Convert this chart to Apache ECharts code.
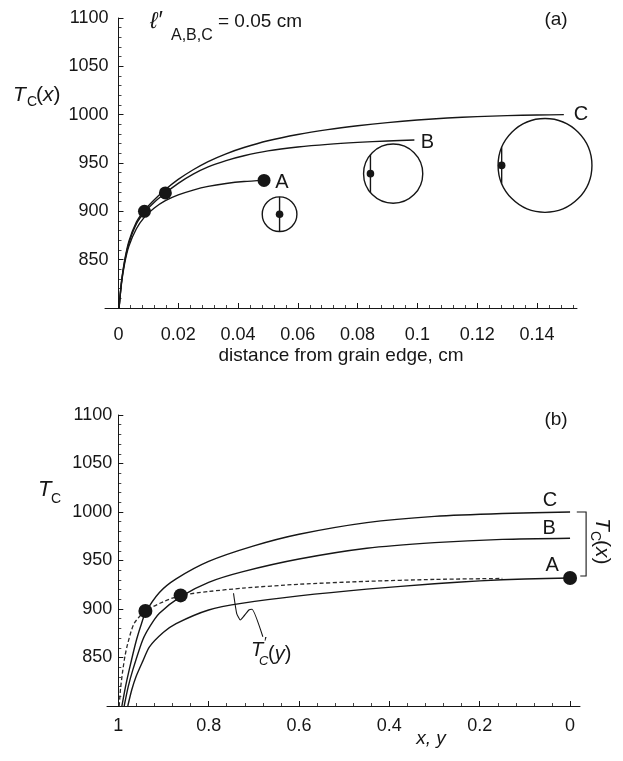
<!DOCTYPE html>
<html><head><meta charset="utf-8">
<script src="https://cdn.jsdelivr.net/npm/echarts@6/dist/echarts.min.js"></script>
<style>html,body{margin:0;padding:0;background:#fff}#c{width:623px;height:761px}</style>
</head><body><div id="c"></div>
<script>
// ---------- Panel (a): Tc(x) vs distance from grain edge (cm) ----------
const xTicksA = [0, 0.02, 0.04, 0.06, 0.08, 0.1, 0.12, 0.14];
const yTicks = [850, 900, 950, 1000, 1050, 1100];

const xA_a = [0.0002,0.001,0.002,0.0035,0.006,0.0087,0.012,0.0157,0.02,0.025,0.03,0.036,0.042,0.0487];
const tA_a = [800,825,845,864,882,894,903.5,911,917,922,925.8,928.8,930.8,932];
const xB_a = [0.0002,0.001,0.002,0.0035,0.006,0.0087,0.012,0.0157,0.02,0.025,0.03,0.036,0.042,0.05,0.06,0.07,0.08,0.09,0.099];
const tB_a = [800,826,847,867,887,899,909.5,919,929,938.5,946,952.5,957.5,962.5,966.5,969.3,971.3,972.8,973.8];
const xC_a = [0.0002,0.001,0.002,0.0035,0.006,0.0087,0.012,0.0157,0.02,0.025,0.03,0.036,0.042,0.05,0.06,0.07,0.08,0.09,0.1,0.11,0.12,0.13,0.14,0.149];
const tC_a = [800,827,848,869,889,901,912,922.5,933,943,951.5,959.5,966,973,979.5,984.5,988.5,991.8,994.5,996.5,998,999,999.6,1000];
const dotX_a = [0.0087, 0.0157, 0.0487];
const dotT_a = [900, 919, 932];
// grain cross-sections: centre (cm, T), radius (cm), nucleus position (cm)
const grainX = [0.0539, 0.0919, 0.1427];
const grainT = [897, 939, 947.5];
const grainR = [0.0058, 0.0099, 0.0157];
const grainDotX = [0.0539, 0.0843, 0.1282];

// ---------- Panel (b): Tc vs x, y ----------
const xTicksB = [0, 0.2, 0.4, 0.6, 0.8, 1];
const xA_b = [0.979,0.97,0.961,0.946,0.931,0.9,0.872,0.8,0.724,0.6,0.45,0.3,0.2,0.1,0];
const tA_b = [800,817,830,846,861,876,885,899,906,913.5,920.5,926,929,931,932];
const xB_b = [0.987,0.978,0.968,0.946,0.93,0.909,0.862,0.8,0.724,0.6,0.45,0.3,0.15,0];
const tB_b = [800,820,837,868,882,895.5,912.7,927.5,938.5,951.5,962.6,968.4,971.8,973];
const xC_b = [0.992,0.984,0.976,0.961,0.95,0.94,0.909,0.872,0.8,0.7,0.6,0.45,0.3,0.15,0];
const tC_b = [800,820,837,866,883,896,917,931,949,965,977,989,995.5,998.5,1000];
const xTp_b = [0.998,0.995,0.99,0.985,0.979,0.965,0.94,0.9,0.862,0.8,0.724,0.6,0.45,0.3,0.15];
const tTp_b = [800,818,837,852,864.6,885,898,907.5,914,918,921.5,925.5,928.5,930.5,931.5];
const dotX_b = [0.94, 0.862, 0];
const dotT_b = [898, 914, 932];
// annotation: leader from T'c(y) label to dashed curve, and bracket for Tc(x)
const leaderX = [0.745, 0.738, 0.730, 0.723, 0.711, 0.704, 0.680];
const leaderT = [916.2, 895.6, 888.7, 892.1, 899.0, 899.7, 871.4];
const bracketX = [-0.0149, -0.0355, -0.0355, -0.0226];
const bracketT = [1000, 1000, 934, 934];

const INK = '#161616';
const FONT = '"Liberation Sans", Arial, Helvetica, sans-serif';
const zip = (xs, ys) => xs.map((x, i) => [x, ys[i]]);
const fmt = v => String(parseFloat((+v).toFixed(3)));

function minorTicks(major, n, hi) {
  const step = (major[1] - major[0]) / n, out = [];
  for (let k = 0; major[0] + k * step <= hi + 1e-9; k++) out.push(+(major[0] + k * step).toFixed(6));
  return out;
}

const chart = echarts.init(document.getElementById('c'), null, {renderer: 'canvas'});

function xMajor(grid, min, max, ticks, margin, inverse, name) {
  return {type: 'value', gridIndex: grid, position: 'bottom', min, max, inverse: !!inverse,
    name: name || '', nameLocation: 'middle', nameGap: 38,
    nameTextStyle: {fontSize: 19, fontFamily: FONT, color: INK},
    axisLine: {show: true, onZero: false, lineStyle: {color: INK, width: 1}},
    axisTick: {show: true, inside: true, length: 5, customValues: ticks, lineStyle: {color: INK, width: 1}},
    axisLabel: {show: true, customValues: ticks, margin, fontSize: 18, fontFamily: FONT, color: INK, formatter: fmt},
    splitLine: {show: false}, minorTick: {show: false}};
}
function xMinor(grid, min, max, ticks, inverse) {
  return {type: 'value', gridIndex: grid, position: 'bottom', min, max, inverse: !!inverse,
    axisLine: {show: false, onZero: false},
    axisTick: {show: true, inside: true, length: 3, customValues: ticks, lineStyle: {color: INK, width: 0.8}},
    axisLabel: {show: false}, splitLine: {show: false}};
}
function yAx(grid, offset, margin) {
  return {type: 'value', gridIndex: grid, position: 'left', min: 800, max: 1100, interval: 50, offset,
    axisLine: {show: true, onZero: false, lineStyle: {color: INK, width: 1}},
    axisTick: {show: true, inside: true, length: 5, lineStyle: {color: INK, width: 1}},
    minorTick: {show: true, splitNumber: 5, length: 3, lineStyle: {color: INK, width: 0.8}},
    axisLabel: {customValues: yTicks, margin, fontSize: 18, fontFamily: FONT, color: INK, formatter: v => String(v)},
    splitLine: {show: false}, minorSplitLine: {show: false}};
}

function lineS(xs, ts, xi, yi, extra) {
  return Object.assign({type: 'line', xAxisIndex: xi, yAxisIndex: yi, data: zip(xs, ts),
    showSymbol: false, symbol: 'none', smooth: 0.25,
    lineStyle: {color: INK, width: 1.4}, silent: true, z: 2}, extra || {});
}
function dots(xs, ts, xi, yi, size) {
  return {type: 'scatter', xAxisIndex: xi, yAxisIndex: yi, data: zip(xs, ts), symbolSize: size,
    itemStyle: {color: INK, opacity: 1}, z: 5, silent: true};
}

function renderGrain(params, api) {
  const c = api.coord([api.value(0), api.value(1)]);
  const d = api.coord([api.value(3), api.value(1)]);
  const rp = api.size([api.value(2), 0])[0];
  const off = d[0] - c[0];
  const half = Math.sqrt(Math.max(rp * rp - off * off, 0));
  return {type: 'group', children: [
    {type: 'circle', shape: {cx: c[0], cy: c[1], r: rp}, style: {fill: 'none', stroke: INK, lineWidth: 1.4}},
    {type: 'line', shape: {x1: d[0], y1: c[1] - half, x2: d[0], y2: c[1] + half}, style: {stroke: INK, lineWidth: 1.4}},
    {type: 'circle', shape: {cx: d[0], cy: c[1], r: 3.8}, style: {fill: INK}}
  ]};
}

const option = {
  animation: false,
  backgroundColor: '#fff',
  grid: [
    {left: 105, top: 18, width: 472, height: 290},
    {left: 107, top: 415, width: 473, height: 291}
  ],
  xAxis: [
    xMajor(0, -0.0045, 0.1534, xTicksA, 18, false, 'distance from grain edge, cm'),
    xMinor(0, -0.0045, 0.1534, minorTicks(xTicksA, 5, 0.1534), false),
    xMajor(1, -0.022, 1.025, xTicksB, 11, true, ''),
    xMinor(1, -0.022, 1.025, minorTicks(xTicksB, 5, 1.025), true)
  ],
  yAxis: [yAx(0, -13.5, 10), yAx(1, -11.3, 6)],
  series: [
    lineS(xA_a, tA_a, 0, 0),
    lineS(xB_a, tB_a, 0, 0),
    lineS(xC_a, tC_a, 0, 0),
    dots(dotX_a, dotT_a, 0, 0, 13),
    {type: 'custom', xAxisIndex: 0, yAxisIndex: 0, clip: false, silent: true, z: 3,
      data: grainX.map((x, i) => [x, grainT[i], grainR[i], grainDotX[i]]), renderItem: renderGrain},

    lineS(xA_b, tA_b, 2, 1),
    lineS(xB_b, tB_b, 2, 1),
    lineS(xC_b, tC_b, 2, 1),
    lineS(xTp_b, tTp_b, 2, 1, {lineStyle: {color: '#2a2a2a', width: 1.3, type: [4, 2.5]}}),
    dots(dotX_b, dotT_b, 2, 1, 14),
    lineS(leaderX, leaderT, 2, 1, {smooth: 0.15, lineStyle: {color: INK, width: 1.1}})
  ]
};
chart.setOption(option);

// ---------- text annotations ----------
const pxA = (x, t) => chart.convertToPixel({xAxisIndex: 0, yAxisIndex: 0}, [x, t]);
const pxB = (x, t) => chart.convertToPixel({xAxisIndex: 2, yAxisIndex: 1}, [x, t]);
function txt(text, x, y, size, extra) {
  return {type: 'text', x, y, silent: true, z: 10,
    style: Object.assign({text, fontSize: size, fontFamily: FONT, fill: INK,
      textAlign: 'left', textVerticalAlign: 'middle'}, extra || {})};
}
const IT = {fontStyle: 'italic'};
const richParen = (v, size) => ({text: '{p|(}{i|' + v + '}{p|)}',
  rich: {p: {fontSize: size, fontFamily: FONT, fill: INK}, i: {fontSize: size, fontFamily: FONT, fill: INK, fontStyle: 'italic'}}});
function paren(v, x, y, size) {
  return {type: 'text', x, y, silent: true, z: 10,
    style: Object.assign({textAlign: 'left', textVerticalAlign: 'middle'}, richParen(v, size))};
}

const endA = pxA(xA_a[xA_a.length - 1], tA_a[tA_a.length - 1]);
const endB = pxA(xB_a[xB_a.length - 1], tB_a[tB_a.length - 1]);
const endC = pxA(xC_a[xC_a.length - 1], tC_a[tC_a.length - 1]);
const endAb = pxB(xA_b[xA_b.length - 1], tA_b[tA_b.length - 1]);
const endBb = pxB(xB_b[xB_b.length - 1], tB_b[tB_b.length - 1]);
const endCb = pxB(xC_b[xC_b.length - 1], tC_b[tC_b.length - 1]);
const bracketPts = bracketX.map((x, i) => pxB(x, bracketT[i]));
const CEN = {textAlign: 'center'};

const graphics = [
  // panel (a) y name Tc(x)
  txt('T', 13, 95, 21, IT),
  txt('C', 27, 102, 14),
  paren('x', 36, 95, 21),
  // l'_{A,B,C} = 0.05 cm
  txt('\u2113\u2032', 150, 22, 23, IT),
  txt('A,B,C', 171, 36, 16),
  txt('= 0.05 cm', 218, 22, 19),
  txt('(a)', 556, 20, 19, CEN),
  // curve labels (a)
  txt('A', endA[0] + 18, endA[1] + 2, 20, CEN),
  txt('B', endB[0] + 13, endB[1] + 2, 20, CEN),
  txt('C', endC[0] + 17, endC[1], 20, CEN),
  // panel (b)
  txt('T', 38, 490, 22, IT),
  txt('C', 51, 499, 14),
  txt('(b)', 556, 420, 19, CEN),
  txt('x, y', 431, 739, 19, Object.assign({textAlign: 'center'}, IT)),
  txt('C', endCb[0] - 20, endCb[1] - 12, 20, CEN),
  txt('B', endBb[0] - 21, endBb[1] - 10, 20, CEN),
  txt('A', endAb[0] - 18, endAb[1] - 12, 20, CEN),
  // T'c(y)
  txt('T', 251, 650, 20, IT),
  txt('\u2032', 264, 643, 15),
  txt('C', 259, 661, 13, IT),
  paren('y', 268, 654, 20),
  // bracket for Tc(x)
  {type: 'polyline', silent: true, z: 10, shape: {points: bracketPts}, style: {fill: 'none', stroke: INK, lineWidth: 1.1}},
  // rotated Tc(x) by bracket
  {type: 'group', x: 602, y: 543, rotation: -Math.PI / 2, silent: true, z: 10, children: [
    txt('T', -25, 0, 21, IT),
    txt('C', -12, 7, 14),
    paren('x', -3, 0, 21)
  ]}
];
chart.setOption({graphic: graphics});
</script></body></html>
